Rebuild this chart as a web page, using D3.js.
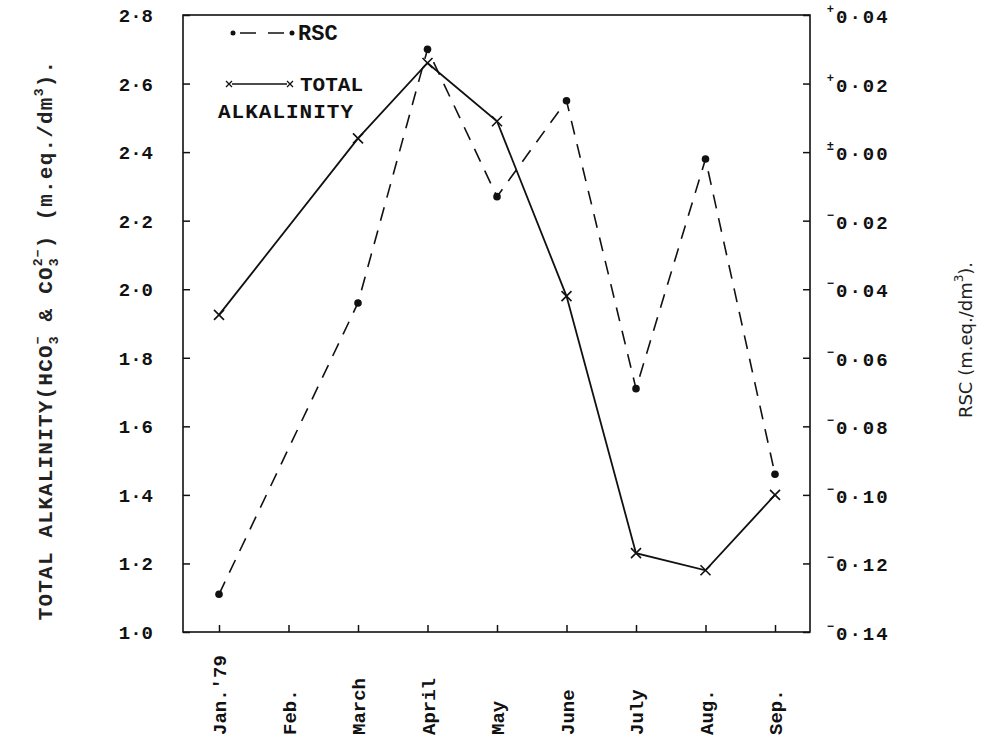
<!DOCTYPE html>
<html><head><meta charset="utf-8">
<script src="https://cdn.jsdelivr.net/npm/d3@7"></script>
<style>body{margin:0;background:#fff}svg{display:block}</style>
</head><body>
<svg id="c" width="1000" height="750"></svg>
<script>
const months = ["Jan.'79","Feb.","March","April","May","June","July","Aug.","Sep."];
const taMonths = ["Jan.'79","March","April","May","June","July","Aug.","Sep."];
const totalAlkalinity = [1.925, 2.44, 2.66, 2.49, 1.98, 1.23, 1.18, 1.40];
const rscMonths = ["Jan.'79","March","April","May","June","July","Aug.","Sep."];
const rscValues = [-0.129, -0.044, 0.030, -0.013, 0.015, -0.069, -0.002, -0.094];
const leftTicks = [1.0,1.2,1.4,1.6,1.8,2.0,2.2,2.4,2.6,2.8];
const leftTickLabels = ["1·0","1·2","1·4","1·6","1·8","2·0","2·2","2·4","2·6","2·8"];
const rightTicks = [0.04,0.02,0.00,-0.02,-0.04,-0.06,-0.08,-0.10,-0.12,-0.14];
const rightTickSigns = ["+","+","±","−","−","−","−","−","−","−"];
const rightTickLabels = ["0·04","0·02","0·00","0·02","0·04","0·06","0·08","0·10","0·12","0·14"];

const svg = d3.select("#c");
const L=183, R=810, T=15, B=632;
const font = "'Liberation Mono','DejaVu Sans Mono',monospace";
const x = d3.scalePoint().domain(months).range([219,775]);
const yL = d3.scaleLinear().domain([1.0,2.8]).range([B,T]);
const yR = d3.scaleLinear().domain([-0.14,0.04]).range([B,T]);

// frame
svg.append("rect").attr("x",L).attr("y",T).attr("width",R-L).attr("height",B-T)
  .attr("fill","none").attr("stroke","#111").attr("stroke-width",1.6);

// left axis
const gl = svg.append("g").attr("transform",`translate(${L},0)`)
  .call(d3.axisRight(yL).tickValues(leftTicks).tickSize(7).tickFormat(""));
gl.select(".domain").remove();
gl.selectAll("line").attr("stroke","#111").attr("stroke-width",1.5);
svg.append("g").selectAll("text").data(leftTicks).join("text")
  .attr("x",153).attr("y",d=>yL(d)+7).attr("text-anchor","end")
  .attr("font-family",font).attr("font-weight","bold").attr("font-size",19)
  .attr("fill","#111").text((d,i)=>leftTickLabels[i]);

// right axis
const gr = svg.append("g").attr("transform",`translate(${R},0)`)
  .call(d3.axisLeft(yR).tickValues(rightTicks).tickSize(7).tickFormat(""));
gr.select(".domain").remove();
gr.selectAll("line").attr("stroke","#111").attr("stroke-width",1.5);
svg.append("g").selectAll("text").data(rightTicks).join("text")
  .attr("x",834).attr("y",d=>yR(d)-2).attr("text-anchor","end")
  .attr("font-family",font).attr("font-weight","bold").attr("font-size",12).attr("fill","#111")
  .text((d,i)=>rightTickSigns[i]);
svg.append("g").selectAll("text").data(rightTicks).join("text")
  .attr("x",836).attr("y",d=>yR(d)+8).attr("letter-spacing",2)
  .attr("font-family",font).attr("font-weight","bold").attr("font-size",19).attr("fill","#111")
  .text((d,i)=>rightTickLabels[i]);

// bottom axis
const gb = svg.append("g").attr("transform",`translate(0,${B})`)
  .call(d3.axisTop(x).tickSize(7).tickFormat(""));
gb.select(".domain").remove();
gb.selectAll("line").attr("stroke","#111").attr("stroke-width",1.5);
svg.append("g").selectAll("text").data(months).join("text")
  .attr("transform",d=>`translate(${x(d)+7},735) rotate(-90)`)
  .attr("text-anchor","start")
  .attr("font-family",font).attr("font-weight","bold").attr("font-size",19).attr("fill","#111")
  .text(d=>d);

// RSC dashed line
const rscPts = rscMonths.map((m,i)=>[x(m), yR(rscValues[i])]);
svg.append("path").attr("d",d3.line()(rscPts)).attr("fill","none")
  .attr("stroke","#111").attr("stroke-width",1.6).attr("stroke-dasharray","14,10");
svg.append("g").selectAll("circle").data(rscPts).join("circle")
  .attr("cx",d=>d[0]).attr("cy",d=>d[1]).attr("r",3.8).attr("fill","#111");

// Total alkalinity solid line
const taPts = taMonths.map((m,i)=>[x(m), yL(totalAlkalinity[i])]);
svg.append("path").attr("d",d3.line()(taPts)).attr("fill","none")
  .attr("stroke","#111").attr("stroke-width",1.8);
const cross = s=>`M${-s},${-s}L${s},${s}M${-s},${s}L${s},${-s}`;
svg.append("g").selectAll("path").data(taPts).join("path")
  .attr("transform",d=>`translate(${d[0]},${d[1]})`).attr("d",cross(5))
  .attr("stroke","#111").attr("stroke-width",1.6).attr("fill","none");

// legend
svg.append("circle").attr("cx",233).attr("cy",33).attr("r",2.5).attr("fill","#111");
svg.append("line").attr("x1",240).attr("x2",284).attr("y1",33).attr("y2",33)
  .attr("stroke","#111").attr("stroke-width",1.6).attr("stroke-dasharray","16,12");
svg.append("circle").attr("cx",292).attr("cy",33).attr("r",2.5).attr("fill","#111");
svg.append("text").attr("x",298).attr("y",40).attr("font-family",font).attr("font-weight","bold")
  .attr("font-size",22).attr("fill","#111").text("RSC");
svg.append("path").attr("transform","translate(229,84)").attr("d",cross(3))
  .attr("stroke","#111").attr("stroke-width",1.3);
svg.append("line").attr("x1",232).attr("x2",287).attr("y1",84).attr("y2",84)
  .attr("stroke","#111").attr("stroke-width",1.4);
svg.append("path").attr("transform","translate(290,84)").attr("d",cross(3))
  .attr("stroke","#111").attr("stroke-width",1.3);
svg.append("text").attr("x",300).attr("y",91).attr("font-family",font).attr("font-weight","bold")
  .attr("font-size",21).attr("fill","#111").text("TOTAL");
svg.append("text").attr("x",218).attr("y",118).attr("font-family",font).attr("font-weight","bold")
  .attr("font-size",21).attr("letter-spacing",1).attr("fill","#111").text("ALKALINITY");

// axis titles
const lt = svg.append("text").attr("transform","translate(52,340) rotate(-90)")
  .attr("text-anchor","middle").attr("font-family",font).attr("font-size",21)
  .attr("letter-spacing",1.2).attr("font-weight","bold").attr("fill","#222");
lt.append("tspan").text("TOTAL ALKALINITY(HCO");
lt.append("tspan").attr("font-size",13).attr("dy",6).text("3");
lt.append("tspan").attr("font-size",13).attr("dy",-16).attr("dx",-9).text("−");
lt.append("tspan").attr("dy",10).text(" & CO");
lt.append("tspan").attr("font-size",13).attr("dy",6).text("3");
lt.append("tspan").attr("font-size",13).attr("dy",-16).attr("dx",-9).text("2−");
lt.append("tspan").attr("dy",10).text(") (m.eq./dm");
lt.append("tspan").attr("font-size",13).attr("dy",-9).text("3");
lt.append("tspan").attr("dy",9).text(").");

const rtt = svg.append("text").attr("transform","translate(972,340) rotate(-90)")
  .attr("text-anchor","middle").attr("font-family","'DejaVu Sans',sans-serif").attr("font-size",18)
  .attr("fill","#222");
rtt.append("tspan").text("RSC (m.eq./dm");
rtt.append("tspan").attr("font-size",12).attr("dy",-9).text("3");
rtt.append("tspan").attr("dy",9).text(").");
</script>
</body></html>
